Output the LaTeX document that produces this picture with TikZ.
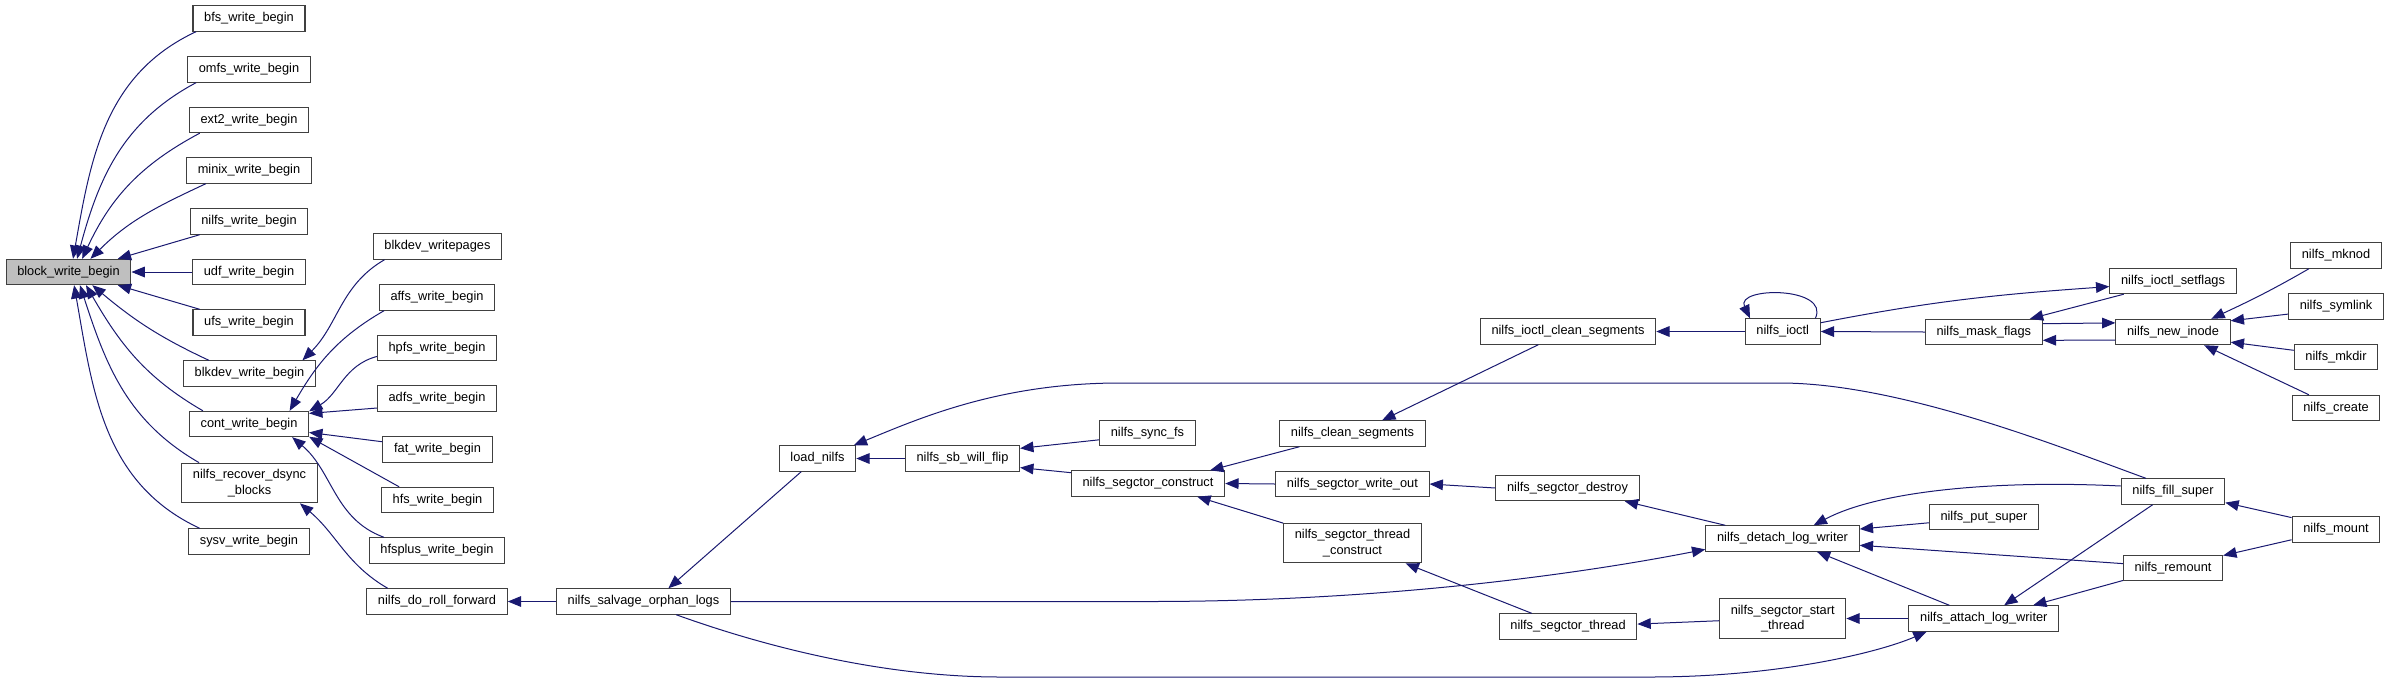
\documentclass[tikz,border=0pt]{standalone}
\usepackage{fontspec}
\setmainfont{Liberation Sans}
\usepackage{tikz}
\usetikzlibrary{arrows.meta}
\definecolor{edgeblue}{RGB}{25,25,112}
\tikzset{
  fn/.style   ={rectangle,draw=black!75,line width=0.8pt,fill=white,font=\fontsize{9.6}{11.5}\selectfont,inner xsep=8.4pt,inner ysep=4.7pt,minimum height=19pt,align=center},
  root/.style ={fn,fill=black!25},
  call/.style ={draw=edgeblue,line width=0.75pt,-{Triangle[length=10pt,width=8pt]}},
}

\begin{document}
\begin{tikzpicture}[x=0.75pt,y=0.75pt]
  \useasboundingbox (0,0) rectangle (2391,-683);
  % first two columns
  \node[root](bwb) at (68.5,-272){block\_write\_begin};
  \node[fn](bfs) at (249,-18.5){bfs\_write\_begin};
  \node[fn](omfs) at (249,-69.5){omfs\_write\_begin};
  \node[fn](ext2) at (249,-120){ext2\_write\_begin};
  \node[fn](minix) at (249,-170.5){minix\_write\_begin};
  \node[fn](nwb) at (249,-221.5){nilfs\_write\_begin};
  \node[fn](udf) at (249,-272){udf\_write\_begin};
  \node[fn](ufs) at (249,-322.5){ufs\_write\_begin};
  \node[fn](bdw) at (249.5,-373.5){blkdev\_write\_begin};
  \node[fn](cwb) at (249,-424){cont\_write\_begin};
  \node[fn](rec) at (249.5,-483){nilfs\_recover\_dsync\\\_blocks};
  \node[fn](sysv) at (249,-541.5){sysv\_write\_begin};
  \node[fn](bwp) at (437.5,-246.5){blkdev\_writepages};
  \node[fn](affs) at (437,-297.5){affs\_write\_begin};
  \node[fn](hpfs) at (437,-348){hpfs\_write\_begin};
  \node[fn](adfs) at (437,-398.5){adfs\_write\_begin};
  \node[fn](fat) at (437.5,-449.5){fat\_write\_begin};
  \node[fn](hfs) at (437.5,-500){hfs\_write\_begin};
  \node[fn](hfsp) at (437,-550.5){hfsplus\_write\_begin};
  \node[fn](roll) at (437,-601.5){nilfs\_do\_roll\_forward};
  % nilfs part
  \node[fn](salv) at (643.5,-601.5){nilfs\_salvage\_orphan\_logs};
  \node[fn](load) at (817.5,-458.5){load\_nilfs};
  \node[fn](flip) at (962.5,-458.5){nilfs\_sb\_will\_flip};
  \node[fn](sync) at (1147.5,-433){nilfs\_sync\_fs};
  \node[fn](con) at (1148,-483.5){nilfs\_segctor\_construct};
  \node[fn](cs) at (1352.5,-433.5){nilfs\_clean\_segments};
  \node[fn](wo) at (1352.4,-484){nilfs\_segctor\_write\_out};
  \node[fn](tc) at (1352.5,-543){nilfs\_segctor\_thread\\\_construct};
  \node[fn](ics) at (1568,-331.5){nilfs\_ioctl\_clean\_segments};
  \node[fn](des) at (1567.5,-488){nilfs\_segctor\_destroy};
  \node[fn](thr) at (1568,-626.5){nilfs\_segctor\_thread};
  \node[fn](io) at (1782.7,-331.5){nilfs\_ioctl};
  \node[fn](det) at (1782.5,-538.5){nilfs\_detach\_log\_writer};
  \node[fn](st) at (1782.7,-618.5){nilfs\_segctor\_start\\\_thread};
  \node[fn](mask) at (1983.8,-332){nilfs\_mask\_flags};
  \node[fn](put) at (1983.9,-517){nilfs\_put\_super};
  \node[fn](att) at (1983.8,-618.5){nilfs\_attach\_log\_writer};
  \node[fn](sflags) at (2173,-281){nilfs\_ioctl\_setflags};
  \node[fn](ninode) at (2173,-332){nilfs\_new\_inode};
  \node[fn](fill) at (2173,-491.5){nilfs\_fill\_super};
  \node[fn](rem) at (2173,-568){nilfs\_remount};
  \node[fn](mknod) at (2336,-255.5){nilfs\_mknod};
  \node[fn](symlink) at (2336,-306.5){nilfs\_symlink};
  \node[fn](mkdir) at (2336,-357){nilfs\_mkdir};
  \node[fn](create) at (2336,-408){nilfs\_create};
  \node[fn](mount) at (2336,-529.5){nilfs\_mount};

  % callers of block_write_begin
  \draw[call](bfs.194) to[out=205,in=80] (bwb.71);
  \draw[call](omfs.194) to[out=208,in=75] (bwb.57);
  \draw[call](ext2.195) to[out=208,in=65] (bwb.44);
  \draw[call](minix.197) to[out=205,in=45] (bwb.31);
  \draw[call](nwb.195) -- (bwb.15);
  \draw[call](udf.west) -- (bwb.east);
  \draw[call](ufs.165) -- (bwb.-15);
  \draw[call](bdw.162) to[out=155,in=-40] (bwb.-29);
  \draw[call](cwb.164) to[out=150,in=-60] (bwb.-37);
  \draw[call](rec.158) to[out=150,in=-72] (bwb.-49);
  \draw[call](sysv.165) to[out=155,in=-80] (bwb.-67);
  \draw[call](bwp.194) to[out=210,in=45] (bdw.14);
  \draw[call](affs.194) to[out=210,in=60] (cwb.18);
  \draw[call](hpfs.188) to[out=195,in=30] (cwb.12);
  \draw[call](adfs.189) -- (cwb.10);
  \draw[call](fat.172) -- (cwb.-8);
  \draw[call](hfs.161) -- (cwb.-12);
  \draw[call](hfsp.166) to[out=160,in=-40] (cwb.-17);
  \draw[call](roll.165) to[out=150,in=-40] (rec.-22);
  \draw[call](salv.west) -- (roll.east);
  % nilfs calls
  \draw[call](load.219) -- (salv.28);
  \draw[call](flip.west) -- (load.east);
  \draw[call](sync.188) -- (flip.10);
  \draw[call](con.172) -- (flip.-9);
  \draw[call](io.west) -- (ics.east);
  \draw[call](io.22) .. controls +(15,32) and +(-15,32) .. (io.158);
  \draw[call](io.13) to[out=11,in=184] (sflags.185);
  \draw[call](mask.west) -- (io.east);
  \draw[call](sflags.195) -- (mask.16);
  \draw[call](mask.8) -- (ninode.171);
  \draw[call](ninode.188) -- (mask.-8);
  \draw[call](mknod.206) to[out=210,in=25] (ninode.19);
  \draw[call](symlink.189) -- (ninode.11);
  \draw[call](mkdir.171) -- (ninode.-10);
  \draw[call](create.154) -- (ninode.-23);
  \draw[call](fill.154) .. controls (2060,-447) and (1900,-383) .. (1780,-383) -- (1120,-383)
    .. controls (1000,-383) and (920,-418) .. (load.20);
  \draw[call](ics.204) -- (cs.24);
  \draw[call](cs.194) -- (con.12);
  \draw[call](wo.west) -- (con.east);
  \draw[call](tc.164) -- (con.-15);
  \draw[call](des.west) -- (wo.east);
  \draw[call](det.167) -- (des.-13);
  \draw[call](thr.160) -- (tc.-21);
  \draw[call](st.182) -- (thr.2);
  \draw[call](att.west) -- (st.east);
  \draw[call](salv.east) -- (1150,-601.5) .. controls (1400,-601.5) and (1600,-570) .. (det.188);
  \draw[call](salv.-22) .. controls (760,-645) and (880,-677) .. (1000,-677) -- (1650,-677)
    .. controls (1780,-677) and (1880,-652) .. (att.193);
  \draw[call](fill.174) .. controls (2000,-480) and (1880,-490) .. (det.23);
  \draw[call](put.186) -- (det.7);
  \draw[call](rem.175) -- (det.-5);
  \draw[call](att.159) -- (det.-21);
  \draw[call](fill.213) -- (att.33);
  \draw[call](rem.194) -- (att.15);
  \draw[call](mount.165) -- (fill.-12);
  \draw[call](mount.193) -- (rem.14);
\end{tikzpicture}
\end{document}
